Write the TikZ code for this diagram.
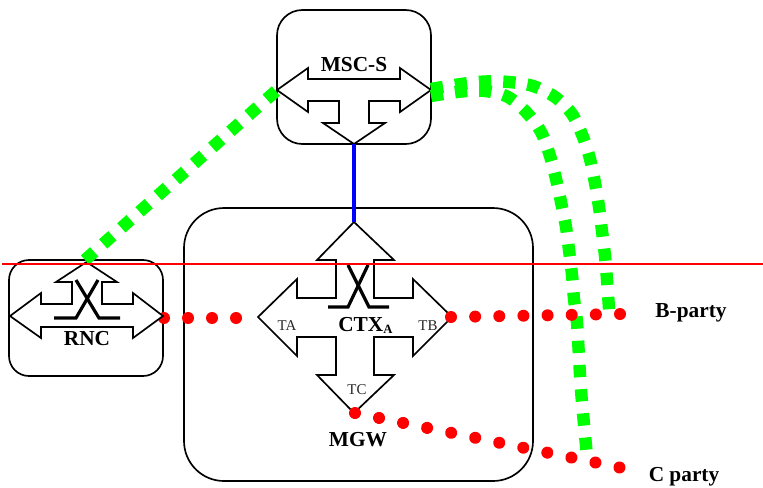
\documentclass[tikz,border=0pt]{standalone}
\usepackage{fontspec}
\setmainfont{Liberation Serif}
\begin{document}
\begin{tikzpicture}[x=0.75pt,y=-0.75pt,
  box/.style={draw=black,line width=1.25pt,fill=none,inner sep=0pt,outer sep=0pt,rounded corners=#1},
  port/.style={draw=black,line width=1.25pt,fill=white,line join=miter},
  xbar/.style={draw=black,line width=2.4pt,line join=miter},
  lab/.style={font=\fontsize{16}{18}\selectfont\bfseries,inner sep=0pt,anchor=base},
  small/.style={font=\fontsize{11.2}{13}\selectfont,inner sep=0pt,text=black!85},
  gdash/.style={draw={rgb,255:red,0;green,255;blue,0},line width=9.3pt,dash pattern=on 9.2pt off 9pt},
  rdots/.style={draw=red,line width=9pt,line cap=round,dash pattern=on 0.01pt off #1},
  sigline/.style={draw=blue,line width=2.4pt},
  axis/.style={draw=red,line width=1.1pt}]
\useasboundingbox (0,0) rectangle (763,487);
% boxes
\node[box=19pt,minimum width=115.5pt,minimum height=100.5pt] (msc) at (354,77) {};
\node[box=15pt,minimum width=115.5pt,minimum height=87pt] (rnc) at (86,318) {};
\node[box=30pt,minimum width=261.75pt,minimum height=204.75pt] (mgw) at (358.5,344.5) {};
% named ends
\coordinate (mscL) at (277,90);
\coordinate (gout) at (431,89);
\coordinate (gin) at (431,96);
\coordinate (mscD) at (354,144);
\coordinate (rncR) at (164,318);
\coordinate (mgwU) at (354,222);
\coordinate (mgwL) at (238,318);
\coordinate (mgwR) at (451,317);
\coordinate (mgwD) at (355,413);
\coordinate (bp) at (621,314);
\coordinate (cp) at (622,468);
\coordinate (gtop) at (85,260);
\coordinate (gb) at (609.5,316);
\coordinate (gc) at (587,456);
% RNC side: dots run under the port
\draw[rdots=18pt] (rncR) -- (mgwL);
\draw[port] (10,316)--(41,293)--(41,304)--(72,304)--(72,282)--(56,282)--(86.5,262)--(117,282)--(102,282)--(102,304)--(133,304)--(133,293)--(163,316)--(133,338)--(133,327)--(41,327)--(41,338)--cycle;
\draw[xbar] (54,318)--(76,318)--(98,280);
\draw[xbar] (120,318)--(99,318)--(76,280);
% MSC port
\draw[port] (277,90)--(308,68)--(308,79)--(400,79)--(400,68)--(431,90)--(400,112)--(400,101)--(369,101)--(369,123)--(385,123)--(354,144)--(323,123)--(339,123)--(339,101)--(308,101)--(308,112)--cycle;
% MGW port
\draw[port] (354,222)--(394,260)--(374,260)--(374,298)--(413,298)--(413,279)--(452,317)--(413,356)--(413,337)--(374,337)--(374,375)--(394,375)--(354,413)--(317,375)--(336,375)--(336,337)--(297,337)--(297,356)--(258,317)--(297,279)--(297,298)--(336,298)--(336,260)--(317,260)--cycle;
\draw[xbar] (328,307)--(348,307)--(368,265);
\draw[xbar] (389,307)--(369,307)--(348,265);
% connectors
\draw[sigline] (mscD)--(mgwU);
\draw[gdash] (gtop)--(mscL);
\draw[gdash] plot[smooth,tension=0.55] coordinates {(gout) (461,84) (485,81.5) (509,82) (533,86) (555,97) (572,114) (583,137) (590,159) (595,183) (599,207) (602,231) (605,256) (607,280) (gb)};
\draw[gdash] plot[smooth,tension=0.55] coordinates {(gin) (461,91.5) (485,91) (508,97) (527,113) (541,132) (550,156) (556,179) (561,202) (566,227) (569,250) (572,275) (574,299) (577,323) (581,390) (gc)};
\draw[rdots=18.1pt] (mgwR)--(bp);
\draw[rdots=18.4pt] (mgwD)--(cp);
% labels
\node[lab] (mscT) at (354,71) {MSC-S};
\node[lab] (rncT) at (87,345) {RNC};
\node[lab,anchor=base west] (ctx) at (338,331) {CTX\raisebox{-1.5pt}{\fontsize{9.5}{10}\selectfont A}};
\node[lab] (mgwT) at (358,446) {MGW};
\node[small] (ta) at (287,326) {TA};
\node[small] (tb) at (428,326) {TB};
\node[small] (tc) at (357,390) {TC};
\node[lab] (bT) at (691,317) {B-party};
\node[lab] (cT) at (684,481) {C party};
% horizon
\coordinate (hl) at (2,264);
\coordinate (hr) at (763,264);
\draw[axis] (hl)--(hr);
\end{tikzpicture}
\end{document}
